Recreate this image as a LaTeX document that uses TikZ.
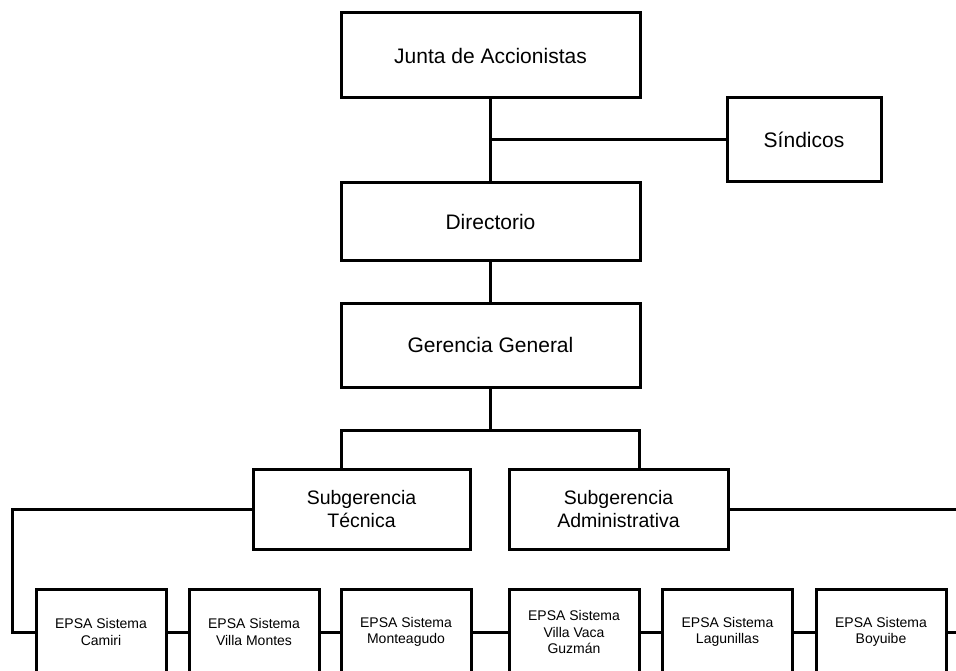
\documentclass[tikz,border=0pt]{standalone}
\usepackage{fontspec}
\setmainfont{Liberation Sans}
\begin{document}
\begin{tikzpicture}[x=1pt,y=-1pt,
  box/.style={draw=black, line width=3pt, rectangle, inner sep=0pt, align=center, fill=white},
  big/.style={box, font=\fontsize{21}{25}\selectfont},
  mid/.style={box, font=\fontsize{19.5}{22.5}\selectfont, minimum height=80pt},
  small/.style={box, font=\fontsize{14}{16.7}\selectfont, minimum width=130pt, minimum height=86pt},
  link/.style={line width=3pt}]
\useasboundingbox (0,0) rectangle (956,671);
\clip (0,0) rectangle (956,671);
% top hierarchy
\node[big, minimum width=299pt, minimum height=85pt] (junta) at (490.5,55.5) {Junta de Accionistas};
\node[big, minimum width=154pt, minimum height=84pt] (sind) at (804,140) {Síndicos};
\node[big, minimum width=299pt, minimum height=78pt] (dir) at (490.5,221.6) {Directorio};
\node[big, minimum width=299pt, minimum height=84pt] (ger) at (490.5,345) {Gerencia General};
\node[mid, minimum width=217pt] (stec) at (361.5,509) {Subgerencia\\Técnica};
\node[mid, minimum width=219pt] (sadm) at (618.5,509) {Subgerencia\\Administrativa};
% EPSA systems
\node[small] (cam) at (101,632) {EPSA Sistema\\Camiri};
\node[small] (vm) at (254,632) {EPSA Sistema\\Villa Montes};
\node[small] (mon) at (406,632) {EPSA Sistema\\Monteagudo};
\node[small] (vvg) at (574,632) {EPSA Sistema\\Villa Vaca\\Guzmán};
\node[small] (lag) at (727.5,632) {EPSA Sistema\\Lagunillas};
\node[small] (boy) at (881,632) {EPSA Sistema\\Boyuibe};
% helper coordinates
\coordinate (jsplit) at (490.5,140);
\coordinate (gsplit) at (490.5,430.7);
\coordinate (bl) at (341,430.7);
\coordinate (br) at (639,430.7);
\coordinate (lx) at (12,509);
\coordinate (ly) at (12,632);
\coordinate (rtop) at (960,509);
\coordinate (rbot) at (960,632);
% connectors
\draw[link] (junta.south) -- (dir.north);
\draw[link] (jsplit) -- (sind.west);
\draw[link] (dir.south) -- (ger.north);
\draw[link] (ger.south) -- (gsplit);
\draw[link] (stec.north -| bl) -- (bl) -- (br) -- (sadm.north -| br);
\draw[link] (stec.west) -- (lx) -- (ly) -- (cam.west);
\draw[link] (sadm.east) -- (rtop);
\draw[link] (cam.east) -- (vm.west);
\draw[link] (vm.east) -- (mon.west);
\draw[link] (mon.east) -- (vvg.west);
\draw[link] (vvg.east) -- (lag.west);
\draw[link] (lag.east) -- (boy.west);
\draw[link] (boy.east) -- (rbot);
\end{tikzpicture}
\end{document}
